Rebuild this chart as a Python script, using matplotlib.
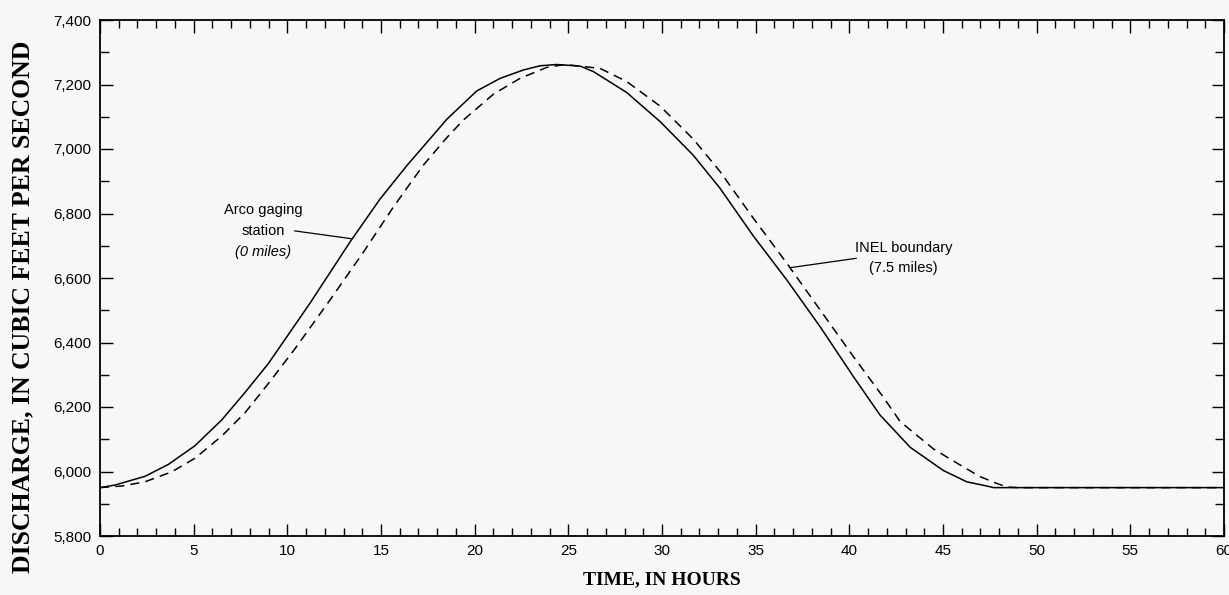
import matplotlib
matplotlib.use("Agg")
import matplotlib.pyplot as plt
from matplotlib.ticker import MultipleLocator, FuncFormatter

# ---- data ----
arco_hours = [0, 0.8, 2.4, 3.65, 5.07, 6.5, 7.74, 8.99, 10.06, 11.21, 13.35, 14.95,
              16.4, 17.89, 18.51, 20.11, 21.36, 22.6, 23.49, 24.38, 25.63, 26.34,
              28.12, 29.9, 31.68, 33.1, 34.88, 36.66, 38.44, 40.22, 41.64, 43.25,
              45.02, 46.27, 47.34, 47.7, 60]
arco_cfs = [5950, 5958, 5985, 6022, 6080, 6160, 6245, 6335, 6425, 6522, 6712, 6845,
            6950, 7050, 7092, 7180, 7219, 7245, 7258, 7262, 7257, 7240,
            7175, 7085, 6980, 6878, 6730, 6594, 6449, 6294, 6175, 6075,
            6003, 5968, 5955, 5950, 5950]

inel_hours = [0, 1.16, 2.4, 3.83, 5.07, 6.5, 7.74, 8.99, 10.4, 12.28, 14.06, 15.66,
              17.26, 18.51, 19.4, 21.0, 22.42, 23.85, 24.8, 26.69, 28.12, 29.9,
              31.68, 33.1, 34.88, 36.66, 38.44, 40.22, 41.82, 42.71, 44.49, 45.92,
              46.98, 47.87, 48.41, 49, 60]
inel_cfs = [5950, 5955, 5968, 5999, 6041, 6110, 6182, 6273, 6380, 6532, 6680, 6820,
            6950, 7035, 7090, 7170, 7219, 7253, 7262, 7250, 7209, 7133,
            7030, 6930, 6785, 6646, 6501, 6356, 6230, 6155, 6070, 6020,
            5984, 5963, 5952, 5950, 5950]

x_ticks = [0, 5, 10, 15, 20, 25, 30, 35, 40, 45, 50, 55, 60]
y_ticks = [5800, 6000, 6200, 6400, 6600, 6800, 7000, 7200, 7400]

bg = "#f7f7f7"
sans = "Liberation Sans"
serif = "Liberation Serif"

fig = plt.figure(figsize=(12.29, 5.95), dpi=100, facecolor=bg)
ax = fig.add_axes([100/1229, 1 - 536/595, 1124/1229, 516/595], facecolor=bg)

ax.plot(arco_hours, arco_cfs, color="black", lw=1.1)
ax.plot(inel_hours, inel_cfs, color="black", lw=1.1, dashes=(6, 4))

ax.set_xlim(0, 60)
ax.set_ylim(5800, 7400)

ax.xaxis.set_major_locator(MultipleLocator(5))
ax.xaxis.set_minor_locator(MultipleLocator(1))
ax.yaxis.set_major_locator(MultipleLocator(200))
ax.yaxis.set_minor_locator(MultipleLocator(100))
ax.set_xticks(x_ticks)
ax.set_yticks(y_ticks)
ax.yaxis.set_major_formatter(FuncFormatter(lambda v, p: f"{int(v):,}"))

ax.tick_params(axis="both", which="both", direction="in", top=True, right=True,
               width=1.0, color="black")
ax.tick_params(axis="x", which="major", length=9, labelsize=11, pad=6)
ax.tick_params(axis="x", which="minor", length=6)
ax.tick_params(axis="y", which="major", length=9, labelsize=11, pad=6)
ax.tick_params(axis="y", which="minor", length=6.5)
for lab in ax.get_xticklabels() + ax.get_yticklabels():
    lab.set_fontfamily(sans)

for s in ax.spines.values():
    s.set_linewidth(1.3)

ax.set_xlabel("TIME, IN HOURS", fontfamily=serif, fontweight="bold", fontsize=14,
              labelpad=9)
ax.set_ylabel("DISCHARGE, IN CUBIC FEET PER SECOND", fontfamily=serif,
              fontweight="bold", fontsize=18.5)
ax.yaxis.set_label_coords(-0.058, 0.445)

# annotations
ax.text(8.7, 6810, "Arco gaging", ha="center", va="center", fontfamily=sans, fontsize=10.5)
ax.text(8.7, 6745, "station", ha="center", va="center", fontfamily=sans, fontsize=10.5)
ax.text(8.7, 6680, "(0 miles)", ha="center", va="center", fontfamily=sans,
        fontsize=10.5, style="italic")
ax.plot([10.4, 13.4], [6746, 6722], color="black", lw=0.9)

ax.text(42.9, 6692, "INEL boundary", ha="center", va="center", fontfamily=sans, fontsize=10.5)
ax.text(42.9, 6632, "(7.5 miles)", ha="center", va="center", fontfamily=sans, fontsize=10.5)
ax.plot([40.36, 36.84], [6661, 6632], color="black", lw=0.9)

fig.savefig("out.png", dpi=100, facecolor=bg)
